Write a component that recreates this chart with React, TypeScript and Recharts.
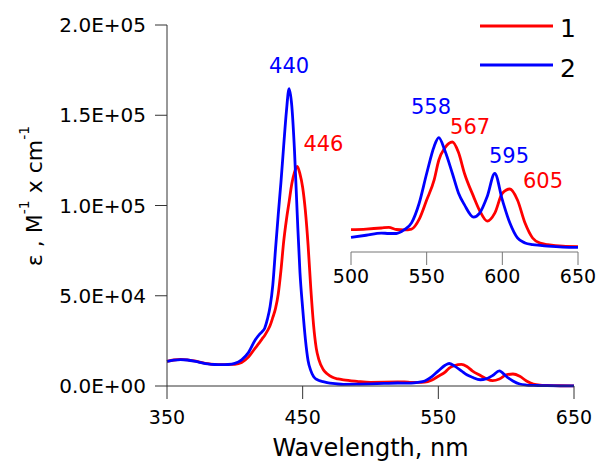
import React from 'react';
import { LineChart, Line, XAxis, YAxis, ReferenceDot } from 'recharts';

// wavelength grid, nm
const wavelength = [
  350, 355, 360, 365, 370, 375, 380, 385, 390, 395, 400, 405, 410, 415,
  418, 420, 422, 424, 426, 428, 430, 432, 434, 436, 438, 440, 442, 444, 446, 448, 450, 452, 454, 456, 458, 460, 462,
  465, 468, 472, 476, 480,
  490, 500, 510, 520, 525, 530, 535, 540, 545, 550, 555, 558, 562, 567, 571, 575, 581, 585, 590, 595, 600, 605, 610,
  615, 620, 625, 630, 640, 650,
];

// compound 1 (red)
const series1 = [
  13700, 14400, 14700, 14500, 13900, 13100, 12400, 12000, 11800, 11900, 12000, 13000, 16000, 21000,
  23900, 26000, 28000, 30500, 33500, 38000, 43000, 51000, 64000, 80000, 92000, 102000, 112000, 118500, 121700, 117500, 110000, 97000, 78000, 54000, 34000, 21000, 14500,
  9300, 6800, 4800, 3900, 3400,
  2600, 2030, 2100, 2220, 2300, 2050, 2000, 2100, 3200, 5400, 7700, 9900, 11300, 11970, 10800, 8400, 5780, 4200, 3000, 3900, 6160, 6640, 5400,
  2780, 1090, 500, 340, 150, 100,
];

// compound 2 (blue)
const series2 = [
  13700, 14300, 14600, 14400, 13800, 13000, 12300, 11900, 11800, 11900, 12500, 14500, 18500, 25500,
  28500, 30000, 32000, 37000, 44000, 56000, 76000, 95000, 113000, 133000, 152000, 164700, 155000, 130000, 95000, 63000, 43000, 26000, 14000, 8500, 5200, 3800, 3000,
  2400, 1900, 1400, 1100, 950,
  1000, 1160, 1400, 1650, 1600, 1600, 2000, 2800, 5000, 8400, 11500, 12460, 11000, 8400, 6200, 4840, 3450, 3900, 5780, 8400, 5400, 2780, 1090,
  530, 340, 250, 170, 60, 30,
];

const xTicks = [350, 450, 550, 650];
const yTicks = [0, 50000, 100000, 150000, 200000];
const insetTicks = [500, 550, 600, 650];

const data = wavelength.map((wl, i) => ({ wl, s1: series1[i], s2: series2[i] }));
const insetData = data.filter(d => d.wl >= 500);

const FONT = '"DejaVu Sans", "Liberation Sans", Arial, sans-serif';
const RED = '#ff0000';
const BLUE = '#0000ff';

const fmtSci = (v: number) => {
  if (v === 0) return '0.0E+00';
  const e = Math.floor(Math.log10(Math.abs(v)));
  const m = v / Math.pow(10, e);
  return `${m.toFixed(1)}E${e < 0 ? '-' : '+'}${String(Math.abs(e)).padStart(2, '0')}`;
};

const YLabel = (props: any) => {
  const vb = props.viewBox || { x: 0, y: 25, height: 361 };
  const x = vb.x + 42;
  const y = 196;
  return (
    <text x={x} y={y} transform={`rotate(-90, ${x}, ${y})`} textAnchor="middle" fontSize={22} fill="#000" fontFamily={FONT}>
      ε , M<tspan fontSize={14} dy={-13}>-1</tspan>
      <tspan dy={13}> x cm</tspan>
      <tspan fontSize={14} dy={-13}>-1</tspan>
    </text>
  );
};

const XLabel = (props: any) => {
  const vb = props.viewBox || { x: 167, y: 386, width: 407 };
  return (
    <text x={vb.x + vb.width / 2} y={vb.y + 70} textAnchor="middle" fontSize={24} fill="#000" fontFamily={FONT}>
      Wavelength, nm
    </text>
  );
};

const LegendBox = () => (
  <svg width={110} height={80} style={{ position: 'absolute', left: 478, top: 10 }}>
    <line x1={2} y1={16} x2={75} y2={16} stroke={RED} strokeWidth={2.8} />
    <text x={82} y={27} fontSize={25} fontFamily={FONT} fill="#000">1</text>
    <line x1={2} y1={55} x2={75} y2={55} stroke={BLUE} strokeWidth={2.8} />
    <text x={82} y={67} fontSize={25} fontFamily={FONT} fill="#000">2</text>
  </svg>
);

const peakLabel = (value: string, color: string) => ({
  value,
  position: 'center' as const,
  fill: color,
  fontSize: 21,
  fontFamily: FONT,
});

const App = () => {
  return (
    <div style={{ position: 'absolute', left: 0, top: 0, width: 598, height: 463, background: '#fff', fontFamily: FONT }}>
      <div style={{ position: 'absolute', left: 0, top: 0 }}>
        <LineChart width={598} height={463} data={data} margin={{ top: 25, right: 24, left: 0, bottom: 0 }}>
          <XAxis
            dataKey="wl"
            type="number"
            domain={[350, 650]}
            ticks={xTicks}
            height={77}
            tickSize={13}
            tickMargin={12}
            stroke="#333"
            tick={{ fill: '#000', fontSize: 19, fontFamily: FONT }}
            label={{ content: XLabel }}
          />
          <YAxis
            type="number"
            domain={[0, 200000]}
            ticks={yTicks}
            width={167}
            tickSize={12}
            tickMargin={9}
            stroke="#333"
            tickFormatter={fmtSci}
            tick={{ fill: '#000', fontSize: 20, fontFamily: FONT }}
            label={{ content: YLabel }}
          />
          <Line type="monotone" dataKey="s1" name="1" stroke={RED} strokeWidth={2.8} dot={false} isAnimationActive={false} />
          <Line type="monotone" dataKey="s2" name="2" stroke={BLUE} strokeWidth={2.8} dot={false} isAnimationActive={false} />
          <ReferenceDot x={440} y={177500} r={0} fill="none" stroke="none" ifOverflow="visible" label={peakLabel('440', BLUE)} />
          <ReferenceDot x={465.3} y={134500} r={0} fill="none" stroke="none" ifOverflow="visible" label={peakLabel('446', RED)} />
        </LineChart>
      </div>
      {/* inset: 500-650 nm zoom */}
      <div style={{ position: 'absolute', left: 0, top: 0 }}>
        <LineChart width={598} height={463} data={insetData} margin={{ top: 80, right: 20, left: 351, bottom: 171 }}>
          <XAxis
            dataKey="wl"
            type="number"
            domain={[500, 650]}
            ticks={insetTicks}
            height={40}
            tickSize={13}
            tickMargin={5}
            stroke="#777"
            tick={{ fill: '#000', fontSize: 19, fontFamily: FONT }}
          />
          <YAxis hide type="number" domain={[-500, 19000]} />
          <Line type="monotone" dataKey="s1" stroke={RED} strokeWidth={2.8} dot={false} isAnimationActive={false} />
          <Line type="monotone" dataKey="s2" stroke={BLUE} strokeWidth={2.8} dot={false} isAnimationActive={false} />
          <ReferenceDot x={552.9} y={15980} r={0} fill="none" stroke="none" ifOverflow="visible" label={peakLabel('558', BLUE)} />
          <ReferenceDot x={578.7} y={13730} r={0} fill="none" stroke="none" ifOverflow="visible" label={peakLabel('567', RED)} />
          <ReferenceDot x={604.4} y={10465} r={0} fill="none" stroke="none" ifOverflow="visible" label={peakLabel('595', BLUE)} />
          <ReferenceDot x={626.9} y={7630} r={0} fill="none" stroke="none" ifOverflow="visible" label={peakLabel('605', RED)} />
        </LineChart>
      </div>
      <LegendBox />
    </div>
  );
};

export default App;
